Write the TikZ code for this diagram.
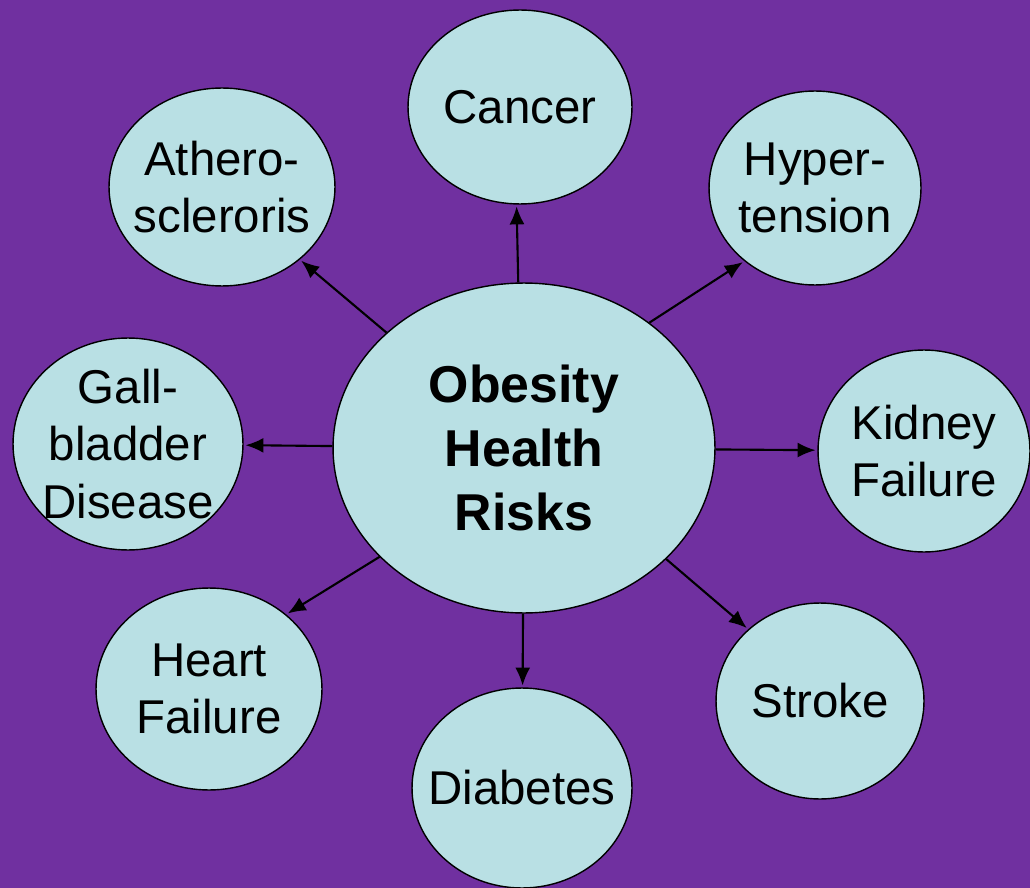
\documentclass[tikz,border=0pt]{standalone}
\usepackage{fontspec}
\setmainfont{Liberation Sans}
\usetikzlibrary{shapes.geometric,arrows.meta}
\definecolor{bgpurple}{HTML}{7030A0}
\definecolor{riskfill}{HTML}{B9E0E4}
\begin{document}
\begin{tikzpicture}[
    x=0.02cm, y=-0.02cm,
    risk/.style={ellipse, draw, line width=0.8pt, fill=riskfill, inner sep=0pt},
    lbl/.style={align=center, inner sep=0pt, font=\fontsize{27}{32.5}\selectfont},
    mainlbl/.style={align=center, inner sep=0pt, font=\fontsize{29.5}{36.3}\selectfont\bfseries},
    link/.style={-{Latex[length=3.6mm,width=3mm]}, line width=1.2pt, shorten >=1pt},
]

% Фон
\useasboundingbox (0,0) rectangle (1030,888);
\fill[bgpurple] (0,0) rectangle (1030,888);

% Центр
\node[risk, minimum width=7.64cm, minimum height=6.6cm,
      label={[mainlbl]center:Obesity\\Health\\Risks}] (obesity) at (524,448) {};

% Верхний ряд
\node[risk, minimum width=4.48cm, minimum height=3.88cm,
      label={[lbl]center:Cancer}] (cancer) at (520,107) {};
\node[risk, minimum width=4.52cm, minimum height=3.96cm,
      label={[lbl]center:Athero-\\scleroris}] (athero) at (222,187) {};
\node[risk, minimum width=4.24cm, minimum height=3.88cm,
      label={[lbl]center:Hyper-\\tension}] (hyper) at (815,188) {};

% Средний ряд
\node[risk, minimum width=4.6cm, minimum height=4.24cm,
      label={[lbl]center:Gall-\\bladder\\Disease}] (gall) at (128,444) {};
\node[risk, minimum width=4.24cm, minimum height=4.04cm,
      label={[lbl]center:Kidney\\Failure}] (kidney) at (924,451) {};

% Нижний ряд
\node[risk, minimum width=4.52cm, minimum height=4.04cm,
      label={[lbl]center:Heart\\Failure}] (heart) at (209,689) {};
\node[risk, minimum width=4.4cm, minimum height=4.0cm,
      label={[lbl]center:Diabetes}] (diabetes) at (522,788) {};
\node[risk, minimum width=4.16cm, minimum height=3.92cm,
      label={[lbl]center:Stroke}] (stroke) at (820,701) {};

% Стрелки от центра
\draw[link] (obesity.92) -- (cancer.268);
\draw[link] (obesity.45) -- (hyper.226);
\draw[link] (obesity.140) -- (athero.317);
\draw[link] (obesity) -- (gall);
\draw[link] (obesity) -- (kidney);
\draw[link] (obesity.217) -- (heart.44);
\draw[link] (obesity) -- (diabetes);
\draw[link] (obesity.322) -- (stroke.135);

\end{tikzpicture}
\end{document}
